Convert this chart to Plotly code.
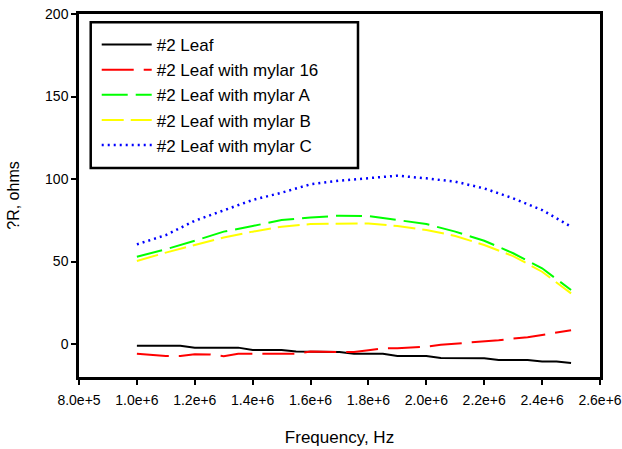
import plotly.graph_objects as go

# Frequency grid (Hz)
freq_fine = [1.00e6 + 0.05e6 * i for i in range(31)]
freq = [1.00e6 + 0.10e6 * i for i in range(16)]

# Resistance change (ohms)
leaf = [-1.0, -1.0, -1.0, -1.0, -2.2, -2.2, -2.2, -2.2, -3.6, -3.6, -3.6,
        -4.6, -4.6, -4.6, -4.8, -5.9, -5.9, -5.9, -7.3, -7.3, -7.3,
        -8.5, -8.5, -8.5, -8.6, -9.7, -9.7, -9.7, -10.6, -10.6, -11.5]
mylar_16 = [-5.9, -6.5, -7.3, -7.3, -6.2, -6.3, -7.4, -5.9, -5.9, -5.9, -5.9,
            -5.9, -4.6, -4.6, -4.6, -4.9, -3.8, -2.6, -2.6, -2.2, -1.6,
            -0.5, 0.2, 0.9, 1.3, 2.3, 3.3, 4.1, 5.5, 6.8, 8.4]
mylar_a = [52.9, 57.4, 62.6, 68.1, 71.5, 75.2, 76.6, 77.8, 77.6, 75.2,
           72.7, 68.1, 62.6, 55.0, 45.9, 32.7]
mylar_b = [50.3, 55.4, 60.0, 64.6, 68.1, 71.1, 72.7, 73.1, 73.1, 71.5,
           69.1, 65.5, 60.0, 53.3, 43.8, 30.7]
mylar_c = [60.4, 66.0, 74.7, 81.0, 87.3, 91.7, 96.8, 99.0, 100.4, 102.0,
           100.4, 98.4, 94.3, 88.3, 81.2, 71.1]

x_ticks = [8.0e5 + 2.0e5 * i for i in range(10)]
y_ticks = [0, 50, 100, 150, 200]

font_family = "Liberation Sans, Arial, sans-serif"

fig = go.Figure()
fig.add_trace(go.Scatter(x=freq_fine, y=leaf, mode="lines", name="#2 Leaf",
                         line=dict(color="black", width=2)))
fig.add_trace(go.Scatter(x=freq_fine, y=mylar_16, mode="lines", name="#2 Leaf with mylar 16",
                         line=dict(color="#ff0000", width=2, dash="32px,10px")))
fig.add_trace(go.Scatter(x=freq, y=mylar_a, mode="lines", name="#2 Leaf with mylar A",
                         line=dict(color="#00ff00", width=2, dash="26px,8px")))
fig.add_trace(go.Scatter(x=freq, y=mylar_b, mode="lines", name="#2 Leaf with mylar B",
                         line=dict(color="#ffff00", width=2, dash="22px,7px")))
fig.add_trace(go.Scatter(x=freq, y=mylar_c, mode="lines", name="#2 Leaf with mylar C",
                         line=dict(color="#0000ff", width=2.5, dash="2px,4px")))

# Frame around the legend (paper coordinates of the plot area)
fig.add_shape(type="rect", xref="paper", yref="paper",
              x0=0.0225, x1=0.5355, y0=0.576, y1=0.977,
              line=dict(color="black", width=2.5), fillcolor="rgba(0,0,0,0)",
              layer="above")

fig.update_layout(
    template="none",
    width=622, height=449,
    margin=dict(l=79, r=22, t=14, b=72, pad=0),
    plot_bgcolor="white", paper_bgcolor="white",
    font=dict(family=font_family, color="black", size=14),
    showlegend=True,
    legend=dict(
        x=0.034, y=0.964, xanchor="left", yanchor="top",
        borderwidth=0, bgcolor="rgba(0,0,0,0)",
        font=dict(size=17, family=font_family, color="black"),
        tracegroupgap=0, itemwidth=50,
    ),
    xaxis=dict(
        range=[8.0e5, 2.6e6], tickvals=x_ticks, tickformat=".1e",
        automargin=False,
        showgrid=False, zeroline=False,
        showline=True, linecolor="black", linewidth=2.5, mirror=True,
        ticks="outside", ticklen=5, tickwidth=2, tickcolor="black",
        tickfont=dict(size=14, color="black"), ticklabelstandoff=3,
        title=dict(text="Frequency, Hz", font=dict(size=17, color="black"), standoff=25),
    ),
    yaxis=dict(
        range=[-20, 200], tickvals=y_ticks,
        automargin=False,
        showgrid=False, zeroline=False,
        showline=True, linecolor="black", linewidth=2.5, mirror=True,
        ticks="outside", ticklen=5, tickwidth=2, tickcolor="black",
        tickfont=dict(size=14, color="black"),
        title=dict(text="?R, ohms", font=dict(size=16, color="black"), standoff=22),
    ),
)

fig.write_html("out.html")
